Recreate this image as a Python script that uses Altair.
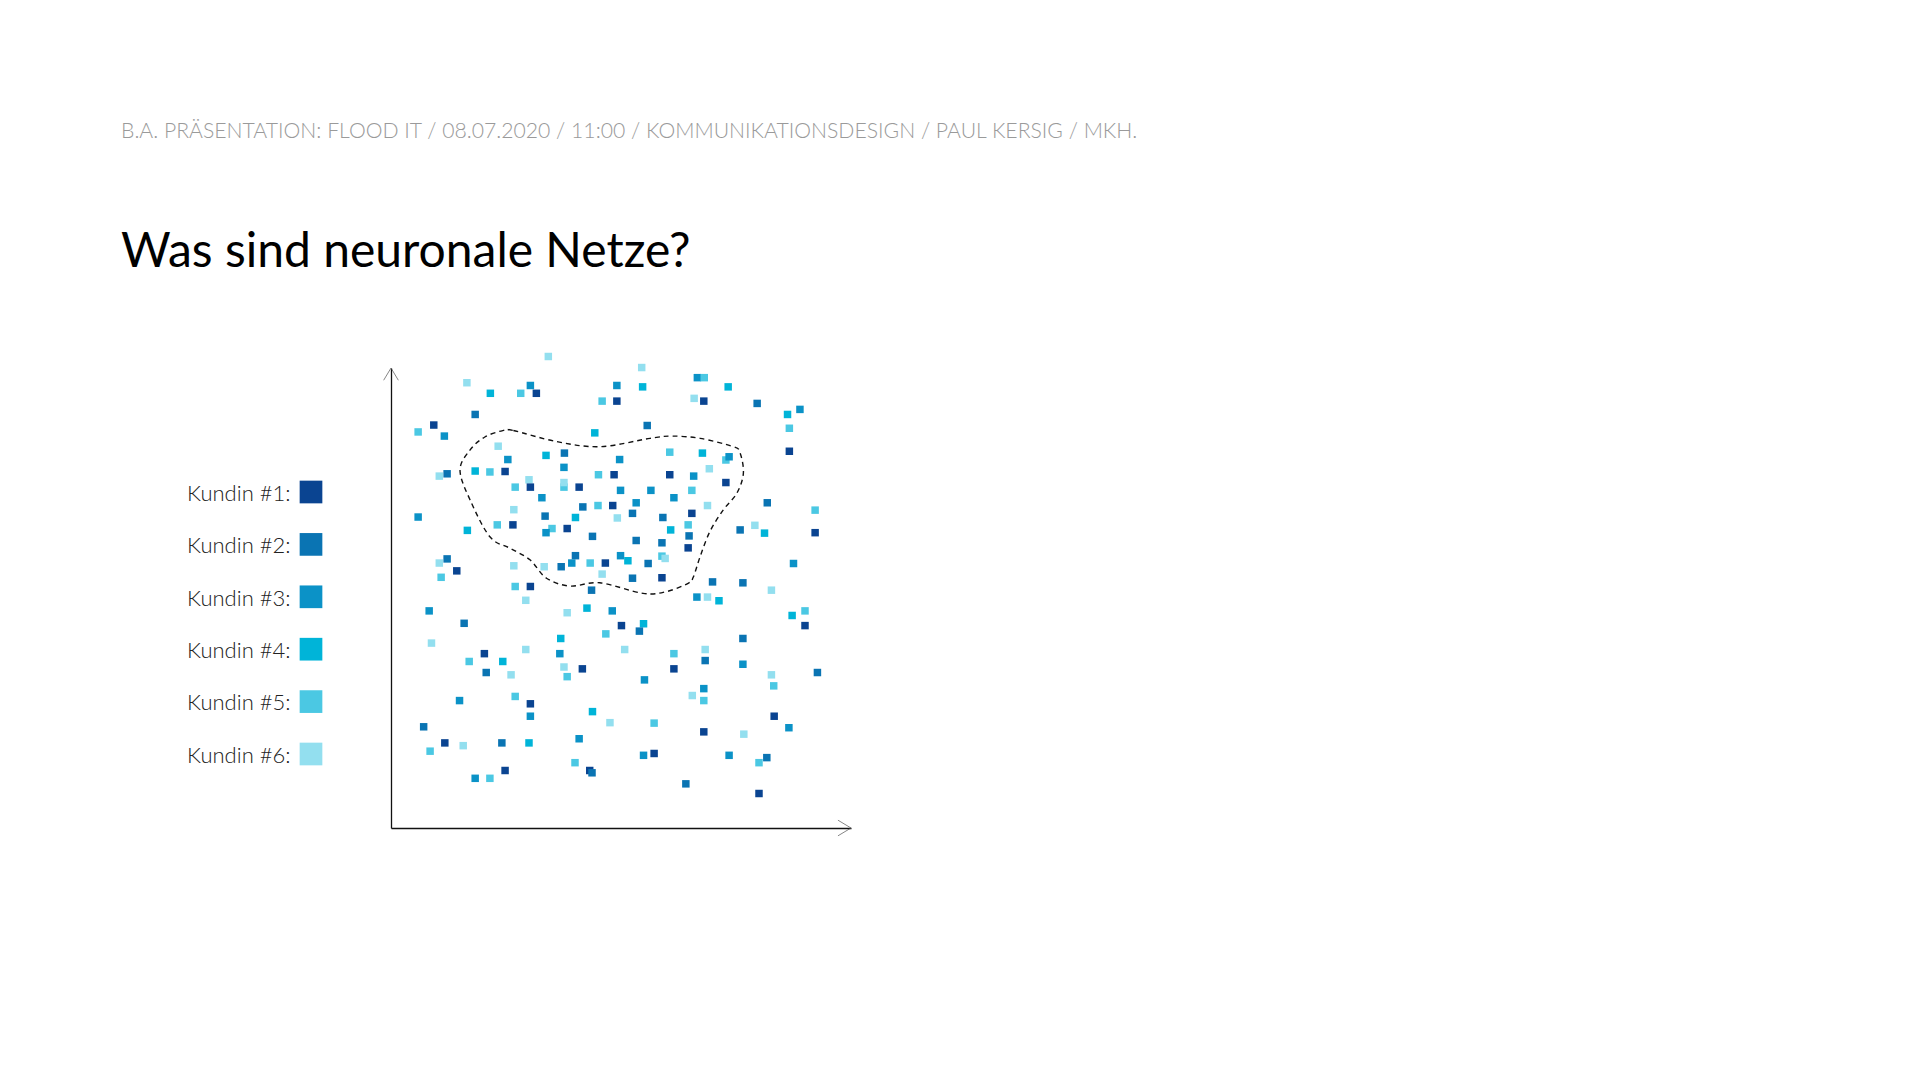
import altair as alt
import pandas as pd

# ---------------- data ----------------
names = ["Kundin #1", "Kundin #2", "Kundin #3", "Kundin #4", "Kundin #5", "Kundin #6"]
colors = ["#0a4491", "#0a74b3", "#0b92c7", "#00b4d8", "#4bc8e3", "#93dfef"]

header = "B.A. PRÄSENTATION: FLOOD IT / 08.07.2020 / 11:00 / KOMMUNIKATIONSDESIGN / PAUL KERSIG / MKH."
title = "Was sind neuronale Netze?"

# scatter points: customer index (1..6), x, y (0..100 units)
pt_k = [6, 6, 3, 4, 5, 1, 5, 2, 1, 5, 3, 4, 6, 2, 4, 3, 3, 6, 2, 4, 5, 1, 6, 5, 5, 1, 5, 6, 1, 3,
        2, 5, 1, 6, 2, 4, 3, 5, 1, 5, 3, 1, 4, 2, 2, 3, 5, 1, 2, 6, 1, 5, 6, 6, 2, 6,
        6, 3, 5, 3, 4, 4, 1, 6, 1, 2, 4, 3, 2, 5, 3, 5, 4, 5, 3, 1, 6, 1, 1, 3, 1, 3, 3, 5, 3,
        3, 6, 2, 5, 6, 2, 2, 1, 4, 5, 2, 2, 6, 4, 1, 2, 2, 1, 3, 4, 2, 5, 6, 3, 2, 1,
        5, 1, 2, 6, 3, 6, 4, 3, 2, 5, 6, 4, 6, 3, 1, 5, 4, 2, 6, 6, 5, 1, 3, 5, 1, 3, 4,
        2, 1, 5, 6, 2, 4, 3, 5, 1, 2, 1, 3, 5,
        2, 2, 6, 3, 6, 4, 4, 5, 1, 4, 2, 1, 2, 6, 5, 6, 2, 1, 3, 2, 3, 6, 5, 3, 6, 5, 1, 3,
        6, 5, 1, 6, 3, 1, 3, 2, 5, 2, 1]
pt_x = [34.2, 16.5, 30.3, 21.6, 28.2, 31.6, 45.9, 18.3, 9.3, 5.9, 11.6, 44.3, 23.3, 37.7, 33.7, 25.4,
        37.6, 10.5, 12.2, 18.3, 21.5, 24.8, 30.0, 45.1, 27.0, 30.3, 37.6, 37.6, 40.9, 32.8,
        41.7, 45.0, 48.2, 26.7, 33.5, 40.1, 5.9, 23.1, 26.5, 35.0, 33.7, 38.3, 16.6, 43.8, 40.1,
        39.3, 43.3, 46.6, 12.2, 10.5, 14.3, 10.9, 26.7, 33.3, 37.0, 45.9,
        54.5, 66.6, 68.1, 49.1, 54.7, 73.3, 49.1, 65.9, 68.0, 79.6, 86.2, 88.9, 55.7, 86.6, 49.7,
        60.6, 67.7, 72.8, 73.5, 86.6, 69.2, 48.5, 60.6, 65.8, 72.8, 49.9, 56.5, 65.4, 61.5,
        53.3, 68.8, 81.8, 92.2, 49.2, 52.5, 59.1, 65.4, 60.8, 64.6, 64.8, 75.9, 79.1, 81.2, 92.2,
        53.3, 58.9, 64.6, 49.9, 51.5, 55.9, 58.9, 59.6, 87.5, 52.5, 58.9,
        27.0, 30.3, 43.6, 29.3, 8.3, 38.3, 42.6, 48.1, 15.9, 46.7, 8.8, 36.9, 29.3, 36.7, 20.3,
        17.0, 24.3, 20.7, 26.1, 37.6, 38.3, 41.6, 14.9, 27.0, 30.3, 30.3, 43.8, 7.1, 11.7, 8.5,
        15.7, 24.1, 30.0, 40.9, 40.0, 43.2, 43.7, 24.8, 18.3, 21.5,
        69.9, 76.5, 82.7, 66.5, 68.8, 71.3, 87.2, 90.0, 50.1, 54.9, 54.0, 90.0, 76.5, 50.8, 61.5,
        68.3, 68.3, 61.5, 76.5, 92.7, 55.1, 82.7, 83.2, 68.0, 65.5, 68.0, 83.3, 86.5,
        47.6, 57.2, 68.0, 76.7, 54.9, 57.2, 73.5, 81.7, 80.0, 64.1, 80.0]
pt_y = [102.5, 96.8, 96.2, 94.5, 94.5, 94.5, 92.8, 89.9, 87.6, 86.1, 85.2, 85.9, 83.0, 81.5, 81.0,
        80.1, 78.4, 76.5, 77.0, 77.6, 77.4, 77.5, 75.7, 76.8, 74.1, 74.1, 74.1, 75.1, 74.1, 71.8,
        69.8, 70.1, 70.1, 69.2, 67.8, 67.5, 67.6, 65.9, 65.9, 65.1, 64.2, 65.1, 64.7, 63.4, 59.2,
        57.6, 57.6, 57.6, 58.5, 57.6, 55.9, 54.5, 57.0, 56.8, 56.8, 55.2,
        100.1, 97.9, 97.9, 96.2, 95.9, 95.9, 92.8, 93.4, 92.8, 92.3, 89.9, 91.0, 87.5, 86.9, 80.1,
        81.7, 81.5, 80.0, 80.7, 81.9, 78.1, 76.8, 76.8, 76.5, 75.1, 73.4, 73.4, 73.4, 71.8,
        70.7, 70.1, 70.7, 69.1, 67.4, 68.4, 67.5, 68.4, 64.8, 65.9, 63.5, 64.8, 65.8, 64.1, 64.2,
        62.5, 62.0, 60.9, 59.2, 58.1, 57.5, 59.1, 58.6, 57.5, 54.3, 54.4,
        52.5, 52.5, 51.7, 49.5, 47.2, 46.8, 47.8, 47.2, 44.5, 42.2, 40.2, 41.2, 38.8, 37.9, 37.9,
        36.2, 36.2, 33.8, 33.3, 35.0, 32.9, 34.6, 27.7, 28.6, 27.0, 24.3, 25.3, 22.0, 18.5, 16.7,
        17.9, 18.5, 18.5, 19.4, 14.2, 12.5, 12.0, 12.5, 10.8, 10.8,
        53.5, 53.3, 51.7, 50.2, 50.2, 49.4, 46.2, 47.2, 44.0, 44.4, 42.8, 44.0, 41.2, 38.8, 37.9,
        38.8, 36.4, 34.6, 35.6, 33.8, 32.2, 33.3, 30.9, 30.3, 28.8, 27.7, 24.3, 21.8,
        22.9, 22.8, 20.9, 20.4, 15.8, 16.2, 15.8, 15.3, 14.2, 9.6, 7.5]

# dashed cluster outline (closed curve)
blob_x = [24.3, 26.6, 36.0, 45.4, 56.3, 61.0, 67.2, 74.4, 75.9, 76.6, 75.2, 72.2, 69.3, 67.2,
          65.7, 64.6, 59.9, 54.8, 45.4, 38.9, 33.8, 30.2, 25.9, 21.5, 17.2, 15.0, 17.2, 20.4]
blob_y = [86.4, 86.4, 84.0, 82.9, 84.7, 85.2, 84.7, 82.9, 81.5, 77.1, 72.8, 69.1, 64.4, 59.0,
          54.5, 53.2, 51.4, 51.0, 53.3, 52.6, 54.3, 58.3, 60.8, 63.3, 71.3, 77.8, 82.2, 85.0]

# ---------------- layout ----------------
W, H = 460, 460
LEFT, TOP = 391, 368

pts = pd.DataFrame({"kundin": [names[k - 1] for k in pt_k], "x": pt_x, "y": pt_y})
blob = pd.DataFrame({"x": blob_x, "y": blob_y, "i": list(range(len(blob_x)))})
legend_df = pd.DataFrame({"kundin": names, "label": [n + ":" for n in names]})

xs = alt.Scale(domain=[0, 100])
ys = alt.Scale(domain=[0, 100])
cs = alt.Scale(domain=names, range=colors)

axis_style = dict(domain=True, ticks=False, labels=False, grid=False, title=None,
                  domainColor="#111111", domainWidth=1.3)

scatter = alt.Chart(pts).mark_square(size=56, opacity=1).encode(
    x=alt.X("x:Q", scale=xs, axis=alt.Axis(**axis_style)),
    y=alt.Y("y:Q", scale=ys, axis=alt.Axis(**axis_style)),
    color=alt.Color("kundin:N", scale=cs, legend=None),
)

outline = alt.Chart(blob).mark_line(
    interpolate="cardinal-closed", color="#111111", strokeWidth=1.4, strokeDash=[5, 4]
).encode(x=alt.X("x:Q", scale=xs), y=alt.Y("y:Q", scale=ys), order=alt.Order("i:Q"))

arrow_up = alt.Chart(pd.DataFrame({"x": [0], "y": [100]})).mark_point(
    shape="M -0.6 1 L 0 0 L 0.6 1", filled=False, stroke="#555555", strokeWidth=1, size=600
).encode(x=alt.X("x:Q", scale=xs), y=alt.Y("y:Q", scale=ys))

arrow_right = alt.Chart(pd.DataFrame({"x": [100], "y": [0]})).mark_point(
    shape="M -1 -0.6 L 0 0 L -1 0.6", filled=False, stroke="#555555", strokeWidth=1, size=680
).encode(x=alt.X("x:Q", scale=xs), y=alt.Y("y:Q", scale=ys))

leg_scale = alt.Scale(domain=names, range=[124, 386], padding=0)

leg_sq = alt.Chart(legend_df).mark_square(size=515, opacity=1).encode(
    x=alt.value(311 - LEFT),
    y=alt.Y("kundin:N", scale=leg_scale, axis=None),
    color=alt.Color("kundin:N", scale=cs, legend=None),
)

leg_txt = alt.Chart(legend_df).mark_text(
    align="left", baseline="alphabetic", dy=8.7, font="Lato", fontSize=22,
    fontWeight=300, color="#222222"
).encode(
    x=alt.value(187 - LEFT),
    y=alt.Y("kundin:N", scale=leg_scale, axis=None),
    text="label:N",
)

head_txt = alt.Chart(pd.DataFrame({"t": [header]})).mark_text(
    align="left", baseline="alphabetic", font="Lato", fontSize=21.2, fontWeight=300,
    color="#9a9a9a"
).encode(x=alt.value(121 - LEFT), y=alt.value(138 - TOP), text="t:N")

title_txt = alt.Chart(pd.DataFrame({"t": [title]})).mark_text(
    align="left", baseline="alphabetic", font="Lato", fontSize=48, fontWeight=400,
    color="#000000"
).encode(x=alt.value(121 - LEFT), y=alt.value(267 - TOP), text="t:N")

main = alt.layer(scatter, outline, arrow_up, arrow_right).resolve_scale(y="shared")
legend = alt.layer(leg_sq, leg_txt)

chart = alt.layer(main, legend, head_txt, title_txt).resolve_scale(
    y="independent"
).properties(
    width=W, height=H,
    padding={"left": LEFT, "top": TOP, "right": 1920 - LEFT - W, "bottom": 1080 - TOP - H},
    autosize=alt.AutoSizeParams(type="none"),
    background="white",
).configure_view(stroke=None)

chart.save("out.html", embed_options={"renderer": "svg", "actions": False})
